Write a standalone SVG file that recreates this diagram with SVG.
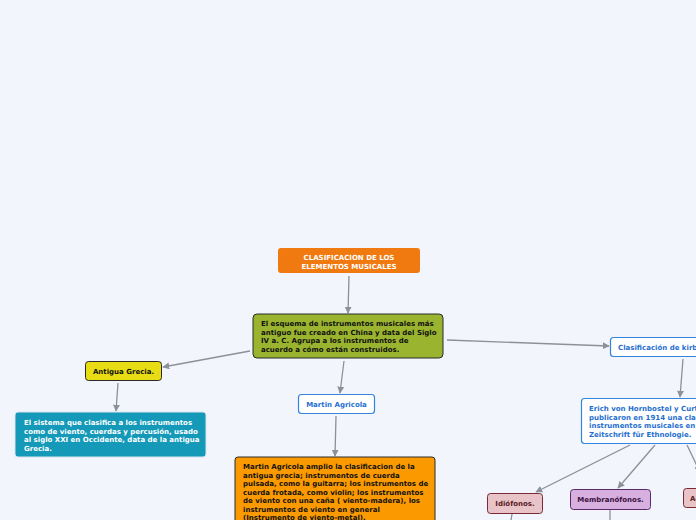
<svg xmlns="http://www.w3.org/2000/svg" width="696" height="520" viewBox="0 0 696 520">
<style>
text{font-family:"DejaVu Sans","Verdana",sans-serif;font-weight:bold;font-size:7px}
.c{fill:none;stroke:#8c9099;stroke-width:1.3;marker-end:url(#ah)}
.wt{fill:#fff}
.bk{fill:#111}
.bl{fill:#1f6fd0}
.blue{fill:#fff;stroke:#3284dc;stroke-width:1.2}
.dark{stroke:#2a2a2a;stroke-width:1}
</style>
<defs>
<marker id="ah" viewBox="0 0 10 10" refX="9" refY="5" markerWidth="7" markerHeight="7" markerUnits="userSpaceOnUse" orient="auto">
<path d="M0,0 L10,5 L0,10 z" fill="#8c9099"/>
</marker>
</defs>
<rect width="696" height="520" fill="#f3f5fd"/>
<g id="connectors">
<line class="c" x1="349" y1="276" x2="348" y2="313"/>
<line class="c" x1="250" y1="351" x2="163" y2="367"/>
<line class="c" x1="118" y1="383" x2="116" y2="411"/>
<line class="c" x1="344" y1="361" x2="340" y2="393"/>
<line class="c" x1="336" y1="416" x2="335" y2="456"/>
<line class="c" x1="447" y1="340" x2="609" y2="346"/>
<line class="c" x1="683" y1="359" x2="680" y2="397"/>
<line class="c" x1="630" y1="445" x2="536" y2="492"/>
<line class="c" x1="655" y1="445" x2="618" y2="488"/>
<line class="c" x1="687" y1="445" x2="700" y2="472"/>
<line x1="512" y1="514" x2="511" y2="520" stroke="#8c9099" stroke-width="1.3"/>
<line x1="610" y1="510" x2="610" y2="520" stroke="#8c9099" stroke-width="1.3"/>
</g>
<g id="title">
<rect x="278" y="248" width="142" height="25" rx="3" fill="#f07a10"/>
<text class="wt" x="349" y="260" text-anchor="middle">CLASIFICACION DE LOS</text>
<text class="wt" x="349" y="268.5" text-anchor="middle">ELEMENTOS MUSICALES</text>
</g>
<g id="main">
<rect x="253" y="314" width="190" height="44" rx="4" fill="#9ab42f" class="dark"/>
<text class="bk" x="261" y="326">El esquema de instrumentos musicales más</text>
<text class="bk" x="261" y="334.5">antiguo fue creado en China y data del Siglo</text>
<text class="bk" x="261" y="343">IV a. C. Agrupa a los instrumentos de</text>
<text class="bk" x="261" y="351.5">acuerdo a cómo están construidos.</text>
</g>
<g id="antigua">
<rect x="85.5" y="361.5" width="76" height="19" rx="3" fill="#e8dc14" class="dark"/>
<text class="bk" x="123.5" y="373.5" text-anchor="middle">Antigua Grecia.</text>
</g>
<g id="grecia-desc">
<rect x="15" y="412" width="191" height="45" rx="3" fill="#1499b8" stroke="#d8e4ee" stroke-width="1"/>
<text class="wt" x="24" y="425">El sistema que clasifica a los instrumentos</text>
<text class="wt" x="24" y="433.5">como de viento, cuerdas y percusión, usado</text>
<text class="wt" x="24" y="442">al siglo XXI en Occidente, data de la antigua</text>
<text class="wt" x="24" y="450.5">Grecia.</text>
</g>
<g id="agricola">
<rect x="298.5" y="394.5" width="76" height="19" rx="3" class="blue"/>
<text class="bl" x="336.5" y="406.5" text-anchor="middle">Martin Agricola</text>
</g>
<g id="agricola-desc">
<rect x="235" y="457" width="200" height="70" rx="3" fill="#fb9a00" class="dark"/>
<text class="bk" x="243" y="469">Martin Agricola amplio la clasificacion de la</text>
<text class="bk" x="243" y="477.5">antigua grecia; instrumentos de cuerda</text>
<text class="bk" x="243" y="486">pulsada, como la guitarra; los instrumentos de</text>
<text class="bk" x="243" y="494.5">cuerda frotada, como violin; los instrumentos</text>
<text class="bk" x="243" y="503">de viento con una caña ( viento-madera), los</text>
<text class="bk" x="243" y="511.5">instrumentos de viento en general</text>
<text class="bk" x="243" y="520">(Instrumento de viento-metal).</text>
</g>
<g id="kirby">
<rect x="610.5" y="337.5" width="100" height="19" rx="3" class="blue"/>
<text class="bl" x="618" y="349.5">Clasificación de kirby</text>
</g>
<g id="erich">
<rect x="581.5" y="398.5" width="130" height="45" rx="3" class="blue"/>
<text class="bl" x="589" y="411">Erich von Hornbostel y Curt</text>
<text class="bl" x="589" y="419.5">publicaron en 1914 una clasificación de</text>
<text class="bl" x="589" y="428">instrumentos musicales en la</text>
<text class="bl" x="589" y="436.5">Zeitschrift für Ethnologie.</text>
</g>
<g id="idiofonos">
<rect x="487.5" y="493.5" width="55" height="20" rx="3" fill="#e8c4c8" stroke="#7a2a34" stroke-width="1"/>
<text x="515" y="506" text-anchor="middle" fill="#5a1a22">Idiófonos.</text>
</g>
<g id="membranofonos">
<rect x="570.5" y="489.5" width="80" height="20" rx="3" fill="#d8b0e0" stroke="#5a2a6a" stroke-width="1"/>
<text x="610.5" y="502" text-anchor="middle" fill="#3a1040">Membranófonos.</text>
</g>
<g id="aerofonos">
<rect x="683.5" y="488.5" width="50" height="19" rx="3" fill="#e8c4c8" stroke="#7a2a34" stroke-width="1"/>
<text x="690" y="500.5" fill="#5a1a22">Aerófonos.</text>
</g>
</svg>
